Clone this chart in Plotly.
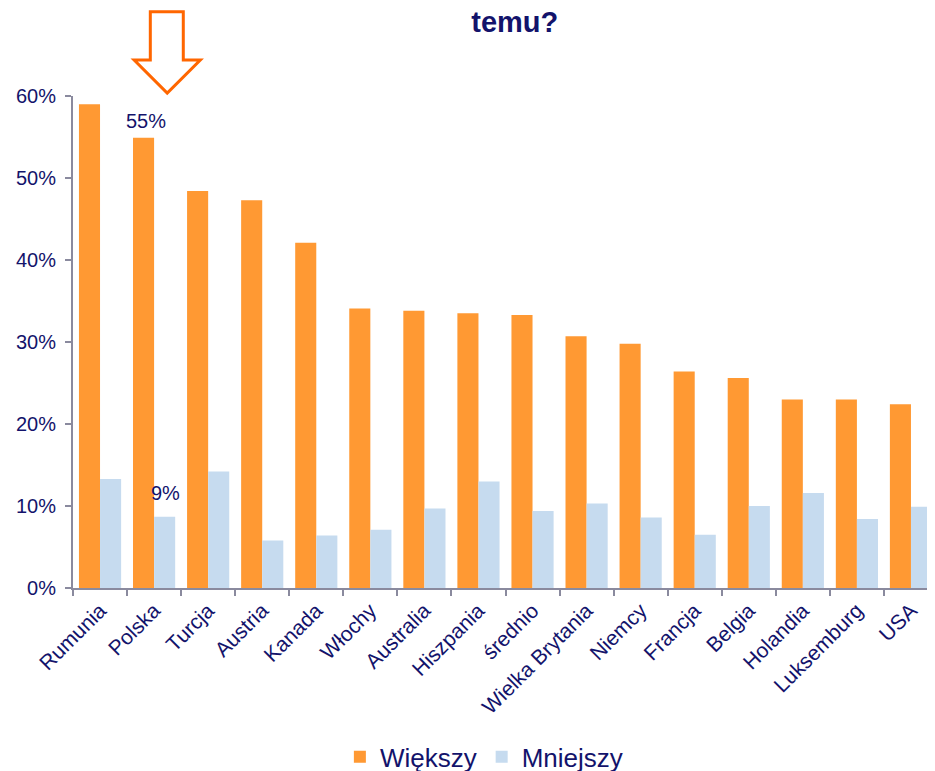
import plotly.graph_objects as go

categories = ["Rumunia", "Polska", "Turcja", "Austria", "Kanada", "Włochy", "Australia",
              "Hiszpania", "średnio", "Wielka Brytania", "Niemcy", "Francja", "Belgia",
              "Holandia", "Luksemburg", "USA"]
wiekszy = [0.590, 0.549, 0.484, 0.473, 0.421, 0.341, 0.338, 0.335, 0.333, 0.307,
           0.298, 0.264, 0.256, 0.230, 0.230, 0.224]
mniejszy = [0.133, 0.087, 0.142, 0.058, 0.064, 0.071, 0.097, 0.130, 0.094, 0.103,
            0.086, 0.065, 0.100, 0.116, 0.084, 0.099]
y_ticks = [0, 0.1, 0.2, 0.3, 0.4, 0.5, 0.6]
y_labels = ["0%", "10%", "20%", "30%", "40%", "50%", "60%"]

NAVY = "#13136b"
FONT = "Liberation Sans, Arial, sans-serif"

fig = go.Figure()
fig.add_trace(go.Bar(x=categories, y=wiekszy, name="Większy",
                     marker=dict(color="#FF9933", line=dict(width=0))))
fig.add_trace(go.Bar(x=categories, y=mniejszy, name="Mniejszy",
                     marker=dict(color="#C6DBEF", line=dict(width=0))))

# highlighted values for Polska
fig.add_annotation(x=0.853, y=0.569, xref="x", yref="y", text="55%", showarrow=False,
                   font=dict(size=20, color=NAVY, family=FONT))
fig.add_annotation(x=1.206, y=0.116, xref="x", yref="y", text="9%", showarrow=False,
                   font=dict(size=20, color=NAVY, family=FONT))

# outlined arrow pointing at Polska
fig.add_shape(type="path", xref="x", yref="paper",
              path="M 0.93,1.171 L 1.54,1.171 L 1.54,1.073 L 1.855,1.073 L 1.243,1.006 "
                   "L 0.631,1.073 L 0.93,1.073 Z",
              line=dict(color="#FF6600", width=3), fillcolor="white")

fig.update_layout(
    width=935, height=771,
    paper_bgcolor="white", plot_bgcolor="white",
    margin=dict(l=65, r=5, t=88, b=191, autoexpand=False),
    barmode="group", bargap=0.22, bargroupgap=0,
    font=dict(family=FONT, color=NAVY),
    title=dict(text="<b>temu?</b>", x=0.542, xref="container", xanchor="center",
               y=1.0, yref="container", yanchor="top", automargin=False,
               pad=dict(t=4, b=0),
               font=dict(size=29, color=NAVY, family=FONT)),
    legend=dict(orientation="h", x=0.475, xanchor="center", y=-0.343, yanchor="middle",
                font=dict(size=26, color=NAVY, family=FONT), itemwidth=30,
                bgcolor="rgba(0,0,0,0)"),
    xaxis=dict(showline=True, linecolor="#8a8a9e", linewidth=2, ticks="outside",
               tickson="boundaries", ticklen=6, tickcolor="#8a8a9e", tickwidth=2,
               tickangle=-45, tickfont=dict(size=21, color=NAVY, family=FONT),
               showgrid=False, automargin=False),
    yaxis=dict(range=[0, 0.6], tickvals=y_ticks, ticktext=y_labels,
               showline=True, linecolor="#8a8a9e", linewidth=2, ticks="outside",
               ticklen=6, tickcolor="#8a8a9e", tickwidth=2, showgrid=False,
               zeroline=False, automargin=False, ticklabelstandoff=5,
               tickfont=dict(size=20, color=NAVY, family=FONT)),
)

fig.write_html("out.html")
